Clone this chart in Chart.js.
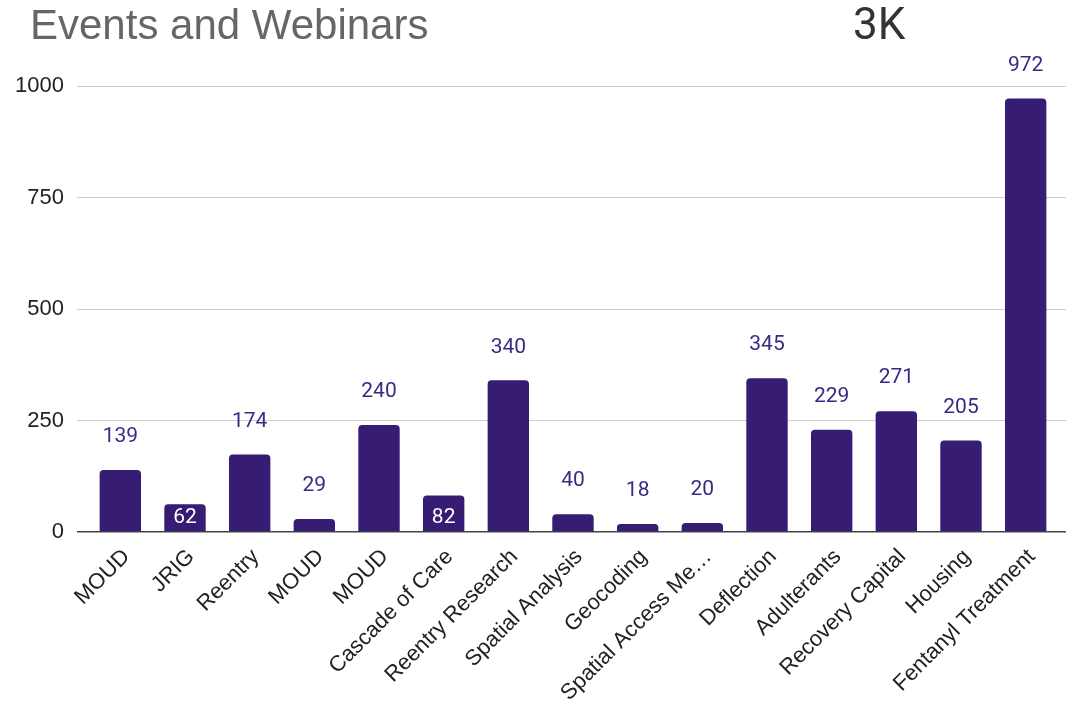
<!DOCTYPE html>
<html>
<head>
<meta charset="utf-8">
<script src="https://cdn.jsdelivr.net/npm/chart.js@4.4.1/dist/chart.umd.min.js"></script>
<style>
  html, body { margin: 0; padding: 0; background: #fff; }
  #wrap { width: 1066px; height: 701px; }
</style>
</head>
<body>
<div id="wrap"><canvas id="eventsChart"></canvas></div>
<script>
// attendance per event / webinar topic
var topics = ['MOUD', 'JRIG', 'Reentry', 'MOUD', 'MOUD', 'Cascade of Care', 'Reentry Research',
  'Spatial Analysis', 'Geocoding', 'Spatial Access Measures', 'Deflection', 'Adulterants',
  'Recovery Capital', 'Housing', 'Fentanyl Treatment'];
var attendees = [139, 62, 174, 29, 240, 82, 340, 40, 18, 20, 345, 229, 271, 205, 972];
var yTicks = [0, 250, 500, 750, 1000];

var BAR = '#361c73';
var LABEL = '#3d2885';
var SANS = '"Liberation Sans", Arial, sans-serif';

// bars whose value is written inside the bar
var insideLabels = [1, 5];

function gridColor(ctx) {
  return ctx.tick && ctx.tick.value === 0 ? '#444' : '#cccccc';
}
function gridWidth(ctx) {
  return ctx.tick && ctx.tick.value === 0 ? 1.5 : 1;
}
function setTicks(scale) {
  scale.ticks = yTicks.map(function (v) { return { value: v }; });
}

var headerPlugin = {
  id: 'header',
  afterDraw: function (chart) {
    var ctx = chart.ctx;
    var total = attendees.reduce(function (a, b) { return a + b; }, 0);
    ctx.save();
    ctx.textBaseline = 'alphabetic';
    ctx.textAlign = 'left';
    ctx.font = '42px ' + SANS;
    ctx.fillStyle = '#666666';
    ctx.fillText('Events and Webinars', 30, 39);
    ctx.font = '44px Roboto';
    ctx.fillStyle = '#333333';
    ctx.fillText(Math.round(total / 1000) + 'K', 853, 39);
    ctx.restore();
  }
};

var valueLabels = {
  id: 'valueLabels',
  afterDatasetsDraw: function (chart) {
    var ctx = chart.ctx;
    var meta = chart.getDatasetMeta(0);
    var base = chart.scales.y.getPixelForValue(0);
    ctx.save();
    ctx.font = '21px Roboto';
    ctx.textAlign = 'center';
    ctx.textBaseline = 'middle';
    meta.data.forEach(function (bar, i) {
      var y;
      if (insideLabels.indexOf(i) >= 0) {
        ctx.fillStyle = '#ffffff';
        y = base - 14;
      } else {
        ctx.fillStyle = LABEL;
        y = bar.y - 33;
      }
      ctx.fillText(String(attendees[i]), bar.x, y);
    });
    ctx.restore();
  }
};

new Chart(document.getElementById('eventsChart'), {
  type: 'bar',
  data: {
    labels: topics,
    datasets: [{
      data: attendees,
      backgroundColor: BAR,
      barPercentage: 0.64,
      categoryPercentage: 1,
      borderRadius: 4,
      borderSkipped: 'start'
    }]
  },
  options: {
    responsive: true,
    maintainAspectRatio: false,
    animation: false,
    layout: { padding: { top: 86, right: 0, bottom: 0, left: 0 } },
    plugins: {
      legend: { display: false },
      tooltip: { enabled: false }
    },
    scales: {
      x: {
        grid: { display: false },
        border: { display: false },
        ticks: {
          autoSkip: false,
          minRotation: 45,
          maxRotation: 45,
          padding: 4,
          labelOffset: 6,
          color: '#222222',
          font: { family: SANS, size: 22 },
          callback: function (value) {
            var s = this.getLabelForValue(value);
            return s.length > 18 ? s.slice(0, 17) + '…' : s;
          }
        },
        afterFit: function (scale) { scale.height = 169; }
      },
      y: {
        min: 0,
        max: 1000,
        afterBuildTicks: setTicks,
        grid: { color: gridColor, tickColor: gridColor, lineWidth: gridWidth, tickLength: 11 },
        border: { display: false },
        ticks: {
          padding: 13,
          color: '#222222',
          font: { family: SANS, size: 22 },
          callback: function (value) { return String(value); }
        },
        afterFit: function (scale) { scale.width = 88; }
      },
      yEdge: {
        position: 'right',
        min: 0,
        max: 1000,
        afterBuildTicks: setTicks,
        grid: { drawOnChartArea: false, tickColor: gridColor, lineWidth: gridWidth, tickLength: 8 },
        border: { display: false },
        ticks: { display: false },
        afterFit: function (scale) { scale.width = 8; }
      }
    }
  },
  plugins: [headerPlugin, valueLabels]
});
</script>
</body>
</html>
